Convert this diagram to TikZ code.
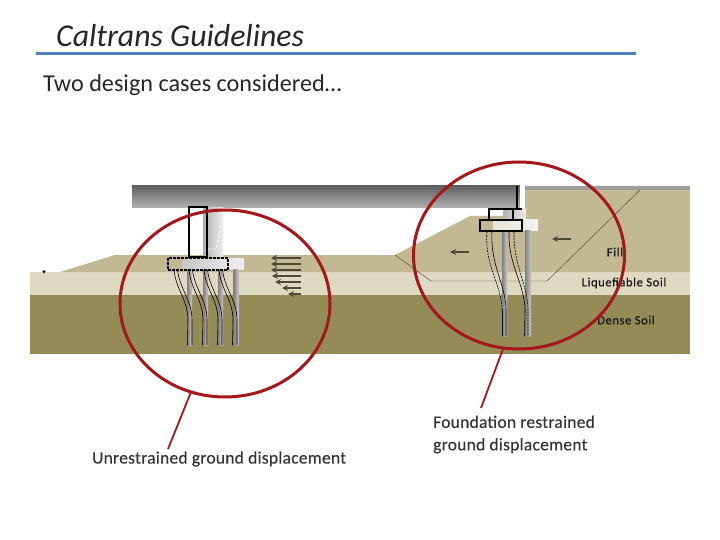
\documentclass[tikz,border=0pt]{standalone}
\usepackage{fontspec}
\setmainfont{Carlito}
\newfontfamily\spacedfont[LetterSpace=1.4,FakeBold=0.25]{Carlito}
\newfontfamily\soilfont[LetterSpace=5,FakeBold=0.6]{Carlito}
\usetikzlibrary{arrows.meta,shapes.geometric}
\definecolor{fillsoil}{HTML}{C2B994}
\definecolor{liqsoil}{HTML}{DEDAC2}
\definecolor{densesoil}{HTML}{958B56}
\definecolor{circred}{HTML}{A5171A}
\definecolor{rulebl}{HTML}{4F81BD}
\definecolor{arrowdk}{HTML}{4F4A36}
\tikzset{
  soilfill/.style={fill=#1,draw=none},
  ghostpile/.style={draw=none,left color=black!50,right color=black!22},
  deflect/.style={draw=black,line width=0.6pt},
  deflectdash/.style={deflect,dash pattern=on 2pt off 1pt},
  flowarrow/.style={draw=arrowdk,line width=1.5pt,-{Stealth[length=6pt,width=6pt]}},
  heavy/.style={draw=black,line width=1.9pt},
  redcirc/.style={draw=circred,line width=3pt,ellipse,inner sep=0pt},
  redline/.style={draw=circred,line width=1.8pt},
  soillabel/.style={font=\fontsize{12.5}{14}\soilfont,text=black!90,inner sep=0pt},
  caselabel/.style={font=\fontsize{17.5}{22.5}\spacedfont,text=black!80,inner sep=0pt,align=left},
}
\begin{document}
\begin{tikzpicture}[x=1pt,y=-1pt]
\useasboundingbox (0,0) rectangle (720,540);
% title
\node[anchor=west,inner sep=0pt,font=\fontsize{31.8}{36}\selectfont\itshape,text=black!85] (title) at (56,36) {Caltrans Guidelines};
\coordinate (ruleL) at (36,53.5);
\coordinate (ruleR) at (636,53.5);
\draw[rulebl,line width=3.5pt] (ruleL) -- (ruleR);
\node[anchor=west,inner sep=0pt,font=\fontsize{24.2}{28}\selectfont,text=black!85] (sub) at (43,85) {Two design cases considered…};
% soils
\fill[soilfill=densesoil] (30,295) rectangle (690,354);
\fill[soilfill=liqsoil] (30,272) rectangle (690,295);
\fill[soilfill=fillsoil] (60,272) -- (115,255) -- (395,255) -- (470,216) -- (525,216) -- (525,186) -- (690,186) -- (690,272) -- cycle;
\fill[black!38] (525,186) rectangle (690,190);
% deck
\shade[top color=black!62,bottom color=black!30] (132,186) rectangle (520,208);
\fill[white] (520,186) rectangle (525,216);
% thin failure line
\coordinate (fa) at (395,255);
\coordinate (fb) at (431,281);
\coordinate (fc) at (547,281);
\coordinate (fd) at (640,190);
\draw[arrowdk,line width=0.45pt] (fa) -- (fb) -- (fc) -- (fd);
% water table mark
\fill[black] (42,270.5) -- (46,270.5) -- (44,273.5) -- cycle;
% left ghost pier
\shade[left color=black!32,right color=black!6] (203,208) rectangle (223,256);
\draw[white,line width=0.6pt,densely dashed] (221,225) -- (216,249) -- (207,249);
\shade[left color=black!22,right color=black!6] (182,258) rectangle (244,269);
\foreach \x in {187,203,218,233.5}{
  \shade[ghostpile] (\x,269) rectangle ++(5,76);
}
% left deflected piles
\foreach \dx in {0,15,30,45}{
  \draw[deflect] (174+\dx,270) .. controls (176+\dx,290) and (188+\dx,300) .. (188+\dx,320) -- (187.5+\dx,345);
  \draw[deflect] (177.5+\dx,270) .. controls (180+\dx,290) and (192+\dx,300) .. (192+\dx,320) -- (192+\dx,345);
}
% left pier and footing
\draw[heavy] (189,207) rectangle (207,257);
\draw[heavy,dash pattern=on 3pt off 1pt] (168,258) rectangle (228,270);
% left arrows
\foreach \yy/\xl in {258/271,264/271,270/271,276/272,282/275,288/282,294/288}{
  \draw[flowarrow] (301,\yy) -- (\xl,\yy);
}
% right ghost
\shade[left color=black!30,right color=black!8] (503,209) rectangle (526,220);
\shade[left color=fillsoil!40,right color=white!95!black] (493,220) rectangle (538,231);
\shade[ghostpile] (502,231) rectangle (507,336);
\shade[ghostpile] (525,231) rectangle (531,336);
% right deflected piles
\draw[deflectdash] (487,232) .. controls (484,265) and (502,285) .. (502,310);
\draw[deflect] (502,310) -- (502,336);
\draw[deflect] (492,232) .. controls (490,265) and (506,285) .. (506,310) -- (506,336);
\draw[deflect] (509,232) .. controls (508,265) and (525,285) .. (525,310) -- (524.5,336);
\draw[deflectdash] (514,232) .. controls (513,265) and (528,285) .. (528,310) -- (528,336);
% right pier and footing
\draw[heavy,line width=2pt] (517,186) -- (517,209);
\draw[heavy] (522,209) -- (489,209) -- (489,219);
\draw[heavy] (513,209) -- (513,219);
\draw[heavy] (480,220) rectangle (522,231);
% right arrows
\coordinate (r1a) at (469,252);
\coordinate (r1b) at (450,252);
\coordinate (r2a) at (571,239);
\coordinate (r2b) at (552,239);
\draw[flowarrow] (r1a) -- (r1b);
\draw[flowarrow] (r2a) -- (r2b);
% soil labels
\node[soillabel] (fill) at (615,252) {Fill};
\node[soillabel] (liq) at (624,283) {Liquefiable Soil};
\node[soillabel] (dense) at (626,320) {Dense Soil};
% circles
\node[redcirc,minimum width=210pt,minimum height=187pt] (cl) at (225,303.5) {};
\node[redcirc,minimum width=211pt,minimum height=187pt] (cr) at (519,255.5) {};
% labels and leaders
\node[caselabel,anchor=west] (ll) at (92,459) {Unrestrained ground displacement};
\node[caselabel,anchor=west] (lr) at (433,434.5) {Foundation restrained\\ground displacement};
\coordinate (la) at (191,392);
\coordinate (lb) at (168,449);
\coordinate (ra) at (503,349);
\coordinate (rb) at (481,408);
\draw[redline] (la) -- (lb);
\draw[redline] (ra) -- (rb);
\end{tikzpicture}
\end{document}
